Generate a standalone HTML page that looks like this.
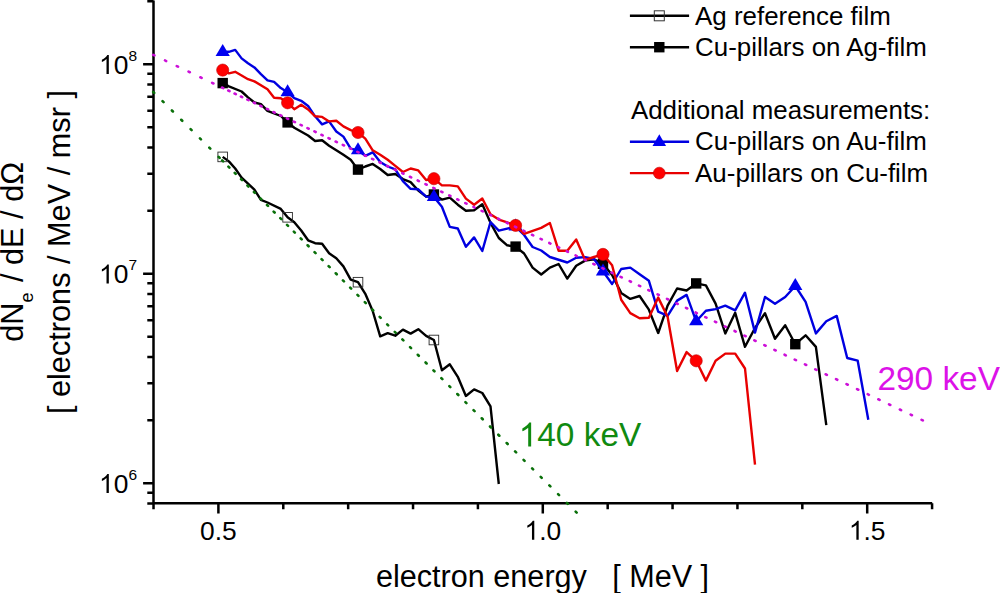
<!DOCTYPE html><html><head><meta charset="utf-8"><style>html,body{margin:0;padding:0;background:#fff;overflow:hidden;width:1000px;height:593px;}svg{display:block;}text{font-family:"Liberation Sans",sans-serif;}</style></head><body>
<svg width="1000" height="593" viewBox="0 0 1000 593">
<rect width="1000" height="593" fill="#fff"/>
<path d="M153.5,0.6000000000000001 L153.5,503.2 L932.2,503.2 M153.52,503.2 l0,6.0 M218.40,503.2 l0,10.3 M283.28,503.2 l0,6.0 M348.16,503.2 l0,6.0 M413.04,503.2 l0,6.0 M477.92,503.2 l0,6.0 M542.80,503.2 l0,10.3 M607.68,503.2 l0,6.0 M672.56,503.2 l0,6.0 M737.44,503.2 l0,6.0 M802.32,503.2 l0,6.0 M867.20,503.2 l0,10.3 M932.08,503.2 l0,6.0 M153.5,503.50 l-6.2,0 M153.5,492.79 l-6.2,0 M153.5,483.20 l-10.4,0 M153.5,420.13 l-6.2,0 M153.5,383.24 l-6.2,0 M153.5,357.07 l-6.2,0 M153.5,336.77 l-6.2,0 M153.5,320.18 l-6.2,0 M153.5,306.15 l-6.2,0 M153.5,294.00 l-6.2,0 M153.5,283.29 l-6.2,0 M153.5,273.70 l-10.4,0 M153.5,210.63 l-6.2,0 M153.5,173.74 l-6.2,0 M153.5,147.57 l-6.2,0 M153.5,127.27 l-6.2,0 M153.5,110.68 l-6.2,0 M153.5,96.65 l-6.2,0 M153.5,84.50 l-6.2,0 M153.5,73.79 l-6.2,0 M153.5,64.20 l-10.4,0 M153.5,1.13 l-6.2,0" stroke="#000" stroke-width="2.5" fill="none" stroke-linecap="butt"/>
<path d="M222.7,156.9 L228.9,161.4 L235.2,168.5 L241.6,177.6 L254.4,189.7 L260.9,199.8 L267.5,202.5 L280.8,208.9 L287.6,217.3 L294.3,222.2 L301.2,230.5 L308.1,240.3 L315.1,243.2 L322.1,243.8 L329.1,253.3 L336.3,258.3 L343.4,266.4 L350.7,279.6 L358.0,282.2 L365.3,293.8 L372.7,311.0 L380.2,336.3 L387.7,333.2 L395.3,335.7 L402.9,329.6 L410.6,333.6 L418.3,329.2 L426.1,335.9 L433.9,340.0 L441.9,370.3 L449.8,364.3 L457.8,376.8 L465.9,396.0 L474.1,389.4 L482.3,393.0 L490.5,406.4 L498.8,484.0" stroke="#000" stroke-width="2.4" fill="none" stroke-linejoin="round"/>
<rect x="217.9" y="152.1" width="9.6" height="9.6" fill="none" stroke="#2a2a2a" stroke-width="0.9"/>
<rect x="282.8" y="212.5" width="9.6" height="9.6" fill="none" stroke="#2a2a2a" stroke-width="0.9"/>
<rect x="353.2" y="277.4" width="9.6" height="9.6" fill="none" stroke="#2a2a2a" stroke-width="0.9"/>
<rect x="429.1" y="335.2" width="9.6" height="9.6" fill="none" stroke="#2a2a2a" stroke-width="0.9"/>
<path d="M222.7,83.1 L228.9,86.4 L241.6,91.5 L248.0,97.4 L254.4,102.5 L260.9,104.1 L267.5,110.9 L280.8,116.0 L287.6,122.4 L294.3,127.7 L308.1,135.5 L315.1,141.0 L322.1,140.2 L329.1,145.7 L336.3,150.3 L343.4,154.8 L350.7,159.8 L358.0,169.6 L365.3,166.5 L372.7,163.9 L380.2,169.0 L387.7,175.0 L395.3,174.0 L402.9,179.1 L410.6,182.1 L418.3,190.5 L426.1,196.6 L433.9,194.5 L441.9,199.6 L449.8,197.6 L457.8,204.7 L465.9,210.7 L474.1,210.3 L482.3,204.3 L490.5,222.8 L498.8,238.0 L507.2,245.3 L515.6,246.6 L524.1,253.5 L532.6,267.6 L541.2,274.5 L549.9,267.6 L558.6,264.0 L567.3,278.6 L576.2,265.7 L585.1,260.6 L594.0,259.3 L603.0,263.8 L612.1,275.0 L621.2,292.9 L630.3,298.9 L639.6,296.0 L648.9,309.7 L658.2,333.0 L667.6,305.7 L677.1,288.5 L686.6,290.5 L696.2,283.4 L705.9,285.4 L715.6,303.6 L725.3,333.4 L735.2,312.8 L745.0,346.8 L755.0,328.0 L765.0,313.2 L775.0,338.8 L785.2,325.3 L795.3,344.2 L805.6,335.3 L815.9,346.9 L826.3,425.1" stroke="#000" stroke-width="2.4" fill="none" stroke-linejoin="round"/>
<rect x="217.5" y="77.9" width="10.4" height="10.4" fill="#000"/>
<rect x="282.4" y="117.2" width="10.4" height="10.4" fill="#000"/>
<rect x="352.8" y="164.4" width="10.4" height="10.4" fill="#000"/>
<rect x="428.7" y="189.3" width="10.4" height="10.4" fill="#000"/>
<rect x="510.4" y="241.4" width="10.4" height="10.4" fill="#000"/>
<rect x="597.8" y="258.6" width="10.4" height="10.4" fill="#000"/>
<rect x="691.0" y="278.2" width="10.4" height="10.4" fill="#000"/>
<rect x="790.1" y="339.0" width="10.4" height="10.4" fill="#000"/>
<path d="M222.7,52.0 L228.9,51.8 L235.2,49.9 L241.6,58.4 L248.0,63.3 L254.4,67.4 L260.9,74.2 L267.5,80.4 L274.1,81.9 L280.8,88.1 L287.6,92.3 L294.3,98.2 L301.2,100.8 L308.1,106.0 L315.1,116.3 L322.1,124.4 L329.1,121.4 L336.3,131.5 L343.4,136.6 L350.7,148.7 L358.0,150.3 L365.3,155.8 L372.7,152.3 L380.2,161.9 L387.7,166.5 L395.3,169.4 L402.9,181.1 L410.6,188.8 L418.3,189.3 L426.1,196.6 L433.9,197.0 L441.9,206.7 L449.8,226.9 L457.8,228.5 L465.9,246.8 L474.1,237.4 L482.3,251.0 L490.5,222.0 L498.8,230.7 L507.2,228.6 L515.6,226.6 L524.1,235.0 L532.6,247.0 L541.2,250.5 L549.9,257.0 L567.3,262.5 L576.2,257.8 L585.1,257.1 L594.0,259.0 L603.0,271.4 L612.1,284.0 L621.2,269.0 L630.3,267.6 L639.6,274.3 L648.9,280.8 L658.2,311.7 L667.6,315.8 L677.1,300.6 L686.6,294.9 L696.2,321.3 L705.9,310.7 L715.6,309.1 L725.3,305.7 L735.2,310.3 L745.0,292.7 L755.0,332.6 L765.0,297.0 L775.0,303.7 L785.2,297.0 L795.3,286.0 L805.6,301.8 L815.9,333.4 L826.3,321.3 L836.7,315.9 L847.2,358.0 L857.7,360.7 L868.3,419.7" stroke="#0000e0" stroke-width="2.4" fill="none" stroke-linejoin="round"/>
<path d="M222.7,44.0 L229.8,56.0 L215.6,56.0Z" fill="#0000f0"/>
<path d="M287.6,84.3 L294.7,96.3 L280.5,96.3Z" fill="#0000f0"/>
<path d="M358.0,142.3 L365.1,154.3 L350.9,154.3Z" fill="#0000f0"/>
<path d="M433.9,189.0 L441.0,201.0 L426.8,201.0Z" fill="#0000f0"/>
<path d="M515.6,218.6 L522.7,230.6 L508.5,230.6Z" fill="#0000f0"/>
<path d="M603.0,263.4 L610.1,275.4 L595.9,275.4Z" fill="#0000f0"/>
<path d="M696.2,313.3 L703.3,325.3 L689.1,325.3Z" fill="#0000f0"/>
<path d="M795.3,278.0 L802.4,290.0 L788.2,290.0Z" fill="#0000f0"/>
<path d="M222.7,70.1 L228.9,73.4 L235.2,71.8 L248.0,79.2 L254.4,81.4 L267.5,89.3 L274.1,97.7 L280.8,98.2 L287.6,102.8 L294.3,109.2 L301.2,104.8 L308.1,109.5 L315.1,116.3 L322.1,116.9 L329.1,121.4 L336.3,120.8 L343.4,126.4 L350.7,130.1 L358.0,132.5 L365.3,138.6 L372.7,150.3 L380.2,154.8 L387.7,159.8 L395.3,165.9 L402.9,172.0 L410.6,168.5 L418.3,170.4 L426.1,180.0 L433.9,178.7 L441.9,185.4 L449.8,185.4 L457.8,186.4 L465.9,198.6 L474.1,204.7 L482.3,198.5 L490.5,214.2 L498.8,219.6 L507.2,222.4 L515.6,225.4 L524.1,233.8 L541.2,227.9 L549.9,223.0 L558.6,250.7 L567.3,250.7 L576.2,239.5 L585.1,260.0 L594.0,257.0 L603.0,254.4 L612.1,265.3 L621.2,299.8 L630.3,313.1 L639.6,318.3 L648.9,317.8 L658.2,297.6 L667.6,316.8 L677.1,371.0 L686.6,352.1 L696.2,360.8 L705.9,380.6 L715.6,360.8 L725.3,353.6 L735.2,353.6 L745.0,368.5 L755.0,464.6" stroke="#e80000" stroke-width="2.4" fill="none" stroke-linejoin="round"/>
<circle cx="222.7" cy="70.1" r="6.1" fill="#ff0000" stroke="#c00000" stroke-width="0.6"/>
<circle cx="287.6" cy="102.8" r="6.1" fill="#ff0000" stroke="#c00000" stroke-width="0.6"/>
<circle cx="358.0" cy="132.5" r="6.1" fill="#ff0000" stroke="#c00000" stroke-width="0.6"/>
<circle cx="433.9" cy="178.7" r="6.1" fill="#ff0000" stroke="#c00000" stroke-width="0.6"/>
<circle cx="515.6" cy="225.4" r="6.1" fill="#ff0000" stroke="#c00000" stroke-width="0.6"/>
<circle cx="603.0" cy="254.4" r="6.1" fill="#ff0000" stroke="#c00000" stroke-width="0.6"/>
<circle cx="696.2" cy="360.8" r="6.1" fill="#ff0000" stroke="#c00000" stroke-width="0.6"/>
<path d="M153.17,54.84l1.26,0.60M164.97,60.45l1.26,0.60M176.77,66.05l1.26,0.60M188.57,71.66l1.26,0.60M200.37,77.26l1.26,0.60M212.17,82.86l1.26,0.60M222.02,87.54l1.26,0.60M228.27,90.51l1.26,0.60M234.57,93.50l1.26,0.60M240.92,96.52l1.26,0.60M247.33,99.56l1.26,0.60M253.79,102.63l1.26,0.60M260.31,105.73l1.26,0.60M266.88,108.85l1.26,0.60M273.51,112.00l1.26,0.60M280.19,115.17l1.26,0.60M286.92,118.37l1.26,0.60M293.72,121.60l1.26,0.60M300.56,124.85l1.26,0.60M307.46,128.13l1.26,0.60M314.42,131.43l1.26,0.60M321.43,134.76l1.26,0.60M328.50,138.12l1.26,0.60M335.62,141.50l1.26,0.60M342.80,144.91l1.26,0.60M350.04,148.35l1.26,0.60M357.33,151.81l1.26,0.60M364.67,155.30l1.26,0.60M372.08,158.81l1.26,0.60M379.53,162.36l1.26,0.60M387.05,165.93l1.26,0.60M394.62,169.52l1.26,0.60M402.25,173.14l1.26,0.60M409.93,176.79l1.26,0.60M417.67,180.47l1.26,0.60M425.46,184.17l1.26,0.60M433.32,187.90l1.26,0.60M441.22,191.66l1.26,0.60M449.19,195.44l1.26,0.60M457.21,199.25l1.26,0.60M465.29,203.09l1.26,0.60M473.43,206.95l1.26,0.60M481.62,210.84l1.26,0.60M489.87,214.76l1.26,0.60M498.18,218.71l1.26,0.60M506.54,222.68l1.26,0.60M514.97,226.68l1.26,0.60M523.45,230.71l1.26,0.60M531.98,234.76l1.26,0.60M540.58,238.85l1.26,0.60M549.23,242.96l1.26,0.60M557.94,247.09l1.26,0.60M566.71,251.26l1.26,0.60M575.54,255.45l1.26,0.60M584.42,259.67l1.26,0.60M593.36,263.92l1.26,0.60M602.36,268.19l1.26,0.60M611.42,272.49l1.26,0.60M620.54,276.82l1.26,0.60M629.71,281.18l1.26,0.60M638.95,285.57l1.26,0.60M648.24,289.98l1.26,0.60M657.59,294.42l1.26,0.60M667.00,298.89l1.26,0.60M676.47,303.39l1.26,0.60M686.00,307.91l1.26,0.60M695.59,312.47l1.26,0.60M705.23,317.05l1.26,0.60M714.94,321.66l1.26,0.60M724.70,326.30l1.26,0.60M734.52,330.96l1.26,0.60M744.41,335.66l1.26,0.60M754.35,340.38l1.26,0.60M764.35,345.13l1.26,0.60M774.41,349.91l1.26,0.60M784.54,354.72l1.26,0.60M794.72,359.55l1.26,0.60M804.96,364.41l1.26,0.60M815.26,369.31l1.26,0.60M825.62,374.23l1.26,0.60M836.04,379.18l1.26,0.60M846.52,384.16l1.26,0.60M857.06,389.16l1.26,0.60M867.67,394.20l1.26,0.60M878.33,399.26l1.26,0.60M889.05,404.36l1.26,0.60M899.84,409.48l1.26,0.60M910.68,414.63l1.26,0.60M921.59,419.81l1.26,0.60" stroke="#cc10d8" stroke-width="2.6" stroke-linecap="round" fill="none"/>
<path d="M153.20,91.91l0.99,0.99M162.55,101.19l0.99,0.99M171.90,110.48l0.99,0.99M181.25,119.77l0.99,0.99M190.60,129.06l0.99,0.99M199.95,138.35l0.99,0.99M209.30,147.63l0.99,0.99M218.65,156.92l0.99,0.99M222.16,160.40l0.99,0.99M228.40,166.61l0.99,0.99M234.70,172.87l0.99,0.99M241.06,179.18l0.99,0.99M247.46,185.54l0.99,0.99M253.93,191.96l0.99,0.99M260.44,198.44l0.99,0.99M267.02,204.96l0.99,0.99M273.64,211.55l0.99,0.99M280.32,218.19l0.99,0.99M287.06,224.88l0.99,0.99M293.85,231.62l0.99,0.99M300.70,238.42l0.99,0.99M307.60,245.28l0.99,0.99M314.56,252.19l0.99,0.99M321.57,259.16l0.99,0.99M328.64,266.18l0.99,0.99M335.76,273.26l0.99,0.99M342.94,280.39l0.99,0.99M350.17,287.57l0.99,0.99M357.46,294.82l0.99,0.99M364.81,302.11l0.99,0.99M372.21,309.47l0.99,0.99M379.67,316.87l0.99,0.99M387.18,324.34l0.99,0.99M394.75,331.86l0.99,0.99M402.38,339.44l0.99,0.99M410.06,347.07l0.99,0.99M417.80,354.76l0.99,0.99M425.60,362.50l0.99,0.99M433.45,370.30l0.99,0.99M441.36,378.16l0.99,0.99M449.33,386.07l0.99,0.99M457.35,394.04l0.99,0.99M465.43,402.06l0.99,0.99M473.56,410.15l0.99,0.99M481.76,418.29l0.99,0.99M490.01,426.48l0.99,0.99M498.32,434.73l0.99,0.99M506.68,443.04l0.99,0.99M515.10,451.41l0.99,0.99M523.58,459.83l0.99,0.99M532.12,468.32l0.99,0.99M540.71,476.85l0.99,0.99M549.37,485.45l0.99,0.99M558.08,494.10l0.99,0.99M566.85,502.81l0.99,0.99M575.67,511.58l0.99,0.99" stroke="#0a700a" stroke-width="2.6" stroke-linecap="round" fill="none"/>
<text x="200.05" y="539.80" font-size="26.4" fill="#000" xml:space="preserve">0.5</text>
<path transform="translate(524.45,539.80) scale(0.01289,-0.01289)" d="M763 0H583V1147Q518 1085 412.5 1023Q307 961 223 930V1104Q374 1175 487 1276Q600 1377 647 1472H763V0Z" fill="#000"/><text x="539.13" y="539.80" font-size="26.4" fill="#000" xml:space="preserve">.0</text>
<path transform="translate(848.85,539.80) scale(0.01289,-0.01289)" d="M763 0H583V1147Q518 1085 412.5 1023Q307 961 223 930V1104Q374 1175 487 1276Q600 1377 647 1472H763V0Z" fill="#000"/><text x="863.53" y="539.80" font-size="26.4" fill="#000" xml:space="preserve">.5</text>
<path transform="translate(99.00,492.90) scale(0.01289,-0.01289)" d="M763 0H583V1147Q518 1085 412.5 1023Q307 961 223 930V1104Q374 1175 487 1276Q600 1377 647 1472H763V0Z" fill="#000"/><text x="113.68" y="492.90" font-size="26.4" fill="#000" xml:space="preserve">0</text>
<text x="128.5" y="479.8" font-size="15.5">6</text>
<path transform="translate(99.00,283.40) scale(0.01289,-0.01289)" d="M763 0H583V1147Q518 1085 412.5 1023Q307 961 223 930V1104Q374 1175 487 1276Q600 1377 647 1472H763V0Z" fill="#000"/><text x="113.68" y="283.40" font-size="26.4" fill="#000" xml:space="preserve">0</text>
<text x="128.5" y="270.3" font-size="15.5">7</text>
<path transform="translate(99.00,73.90) scale(0.01289,-0.01289)" d="M763 0H583V1147Q518 1085 412.5 1023Q307 961 223 930V1104Q374 1175 487 1276Q600 1377 647 1472H763V0Z" fill="#000"/><text x="113.68" y="73.90" font-size="26.4" fill="#000" xml:space="preserve">0</text>
<text x="128.5" y="60.8" font-size="15.5">8</text>
<text x="376" y="587.3" font-size="30.6">electron energy<tspan dx="25.3">[ MeV ]</tspan></text>
<g transform="translate(22.8,341.8) rotate(-90)"><text x="0" y="0" font-size="30.7">dN<tspan font-size="18" dy="10.6">e</tspan><tspan dy="-10.6" dx="2"> / dE / d&#937;</tspan></text></g>
<g transform="translate(70,414.1) rotate(-90)"><text x="0" y="0" font-size="30.7">[ electrons / MeV / msr ]</text></g>
<text x="877.40" y="389.50" font-size="33.4" fill="#dc12e8" xml:space="preserve">290 keV</text>
<path transform="translate(518.70,446.40) scale(0.01631,-0.01631)" d="M763 0H583V1147Q518 1085 412.5 1023Q307 961 223 930V1104Q374 1175 487 1276Q600 1377 647 1472H763V0Z" fill="#108a10"/><text x="537.28" y="446.40" font-size="33.4" fill="#108a10" xml:space="preserve">40 keV</text>
<path d="M629.9,15.8 L689.1,15.8" stroke="#000" stroke-width="2.4"/>
<rect x="654.3" y="10.8" width="10.0" height="10.0" fill="none" stroke="#333" stroke-width="1.0"/>
<text x="695.1" y="24.5" font-size="25.9">Ag reference film</text>
<path d="M629.9,47.2 L689.1,47.2" stroke="#000" stroke-width="2.4"/>
<rect x="654.1" y="42.0" width="10.4" height="10.4" fill="#000"/>
<text x="695.1" y="55.9" font-size="25.9">Cu-pillars on Ag-film</text>
<path d="M629.9,141.8 L689.1,141.8" stroke="#0000e0" stroke-width="2.4"/>
<path d="M659.3,134.2 L666.1,146.0 L652.5,146.0Z" fill="#0000f0"/>
<text x="695.1" y="150.2" font-size="25.9">Cu-pillars on Au-film</text>
<path d="M629.9,173.1 L689.1,173.1" stroke="#e80000" stroke-width="2.4"/>
<circle cx="659.3" cy="173.1" r="5.9" fill="#ff0000" stroke="#c00000" stroke-width="0.6"/>
<text x="695.1" y="181.7" font-size="25.9">Au-pillars on Cu-film</text>
<text x="630.9" y="118.8" font-size="25.9">Additional measurements:</text>
</svg></body></html>
